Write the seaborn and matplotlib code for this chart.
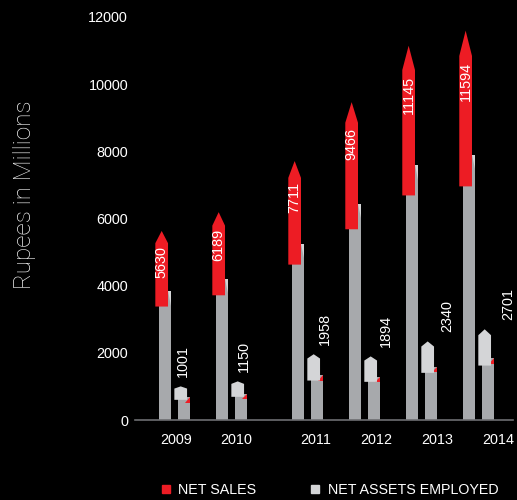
import numpy as np
import pandas as pd
import matplotlib
matplotlib.use("Agg")
import matplotlib.pyplot as plt
from matplotlib.patches import Polygon
from matplotlib.lines import Line2D
import seaborn as sns

years = ["2009", "2010", "2011", "2012", "2013", "2014"]
net_sales = [5630, 6189, 7711, 9466, 11145, 11594]
net_assets = [1001, 1150, 1958, 1894, 2340, 2701]
y_ticks = [0, 2000, 4000, 6000, 8000, 10000, 12000]
y_label = "Rupees in Millions"
legend_labels = ["NET SALES", "NET ASSETS EMPLOYED"]

RED = "#ED1C24"
BAR_GRAY = "#A7A9AC"
LIGHT = "#D4D5D7"
BG = "#000000"

sns.set_theme(style="dark", rc={
    "figure.facecolor": BG, "axes.facecolor": BG, "savefig.facecolor": BG,
    "axes.grid": False,
})
plt.rcParams["font.family"] = ["Liberation Sans", "DejaVu Sans"]

fig = plt.figure(figsize=(5.17, 5.0), dpi=100)
ax = fig.add_axes([135 / 517, 80 / 500, 378 / 517, 403 / 500])

n = len(years)
# layout: a wider gap between 2010 and 2011
pos = np.array([i + (0.333 if i >= 2 else 0.0) for i in range(n)])
off = 0.167
bw = 0.223
shaft = 0.68

df_big = pd.DataFrame({"x": pos - off, "h": np.array(net_sales) * shaft})
df_small = pd.DataFrame({"x": pos + off, "h": np.array(net_assets) * shaft})
sns.barplot(data=df_big, x="x", y="h", native_scale=True, width=bw, color=BAR_GRAY,
            saturation=1, errorbar=None, ax=ax, linewidth=0, zorder=2)
sns.barplot(data=df_small, x="x", y="h", native_scale=True, width=bw, color=BAR_GRAY,
            saturation=1, errorbar=None, ax=ax, linewidth=0, zorder=2)


def arrow(xc, v, color):
    x0, x1 = xc - bw / 2, xc + bw / 2
    b, s = 0.6 * v, 0.935 * v
    return Polygon([(x0, b), (x1, b), (x1, s), (xc, v), (x0, s)], closed=True,
                   facecolor=color, edgecolor="none", zorder=4, clip_on=False)


shift = 0.058
for i in range(n):
    vs, va_ = net_sales[i], net_assets[i]
    xr = pos[i] - off + bw / 2
    top = vs * shaft
    ax.add_patch(Polygon([(xr - 0.05, top), (xr, top), (xr, top - 420)],
                         facecolor=LIGHT, edgecolor="none", zorder=3))
    xr2 = pos[i] + off + bw / 2
    top2 = va_ * shaft
    ax.add_patch(Polygon([(xr2, top2), (xr2, top2 - 160), (xr2 - 0.09, top2 - 160)],
                         facecolor=RED, edgecolor="none", zorder=3))
    ax.add_patch(arrow(pos[i] - off - shift, vs, RED))
    ax.add_patch(arrow(pos[i] + off - shift, va_, LIGHT))
    ax.text(pos[i] - off - shift, 0.92 * vs, f"{vs}", rotation=90, ha="center",
            va="top", color="white", fontsize=10.4, zorder=5)
    ax.text(pos[i] + 0.15 + 0.075 * i, va_ + 290, f"{va_}", rotation=90, ha="center",
            va="bottom", color="white", fontsize=10.4, zorder=5, clip_on=False)

ax.set_xlim(-0.693, 5.939)
ax.set_ylim(0, 12000)
ax.set_yticks(y_ticks)
ax.set_yticklabels([str(t) for t in y_ticks])
ax.set_xticks(pos + 0.026 + 0.063 * np.arange(n))
ax.set_xticklabels(years)
ax.set_xlabel("")
ax.set_ylabel("")
ax.tick_params(axis="both", length=0, colors="white", labelsize=10.4)
ax.tick_params(axis="y", pad=5)
ax.tick_params(axis="x", pad=9)
for sp in ["top", "left", "right"]:
    ax.spines[sp].set_visible(False)
ax.spines["bottom"].set_color("#6D6E71")
ax.spines["bottom"].set_linewidth(1.2)

fig.text(25 / 517, 1 - 195 / 500, y_label, rotation=90, ha="center", va="center",
         color="#F0F0F0", fontsize=17.5, family=["Roboto", "DejaVu Sans"], fontweight="light")

handles = [Line2D([], [], marker="s", ls="", color=RED, markersize=5.5),
           Line2D([], [], marker="s", ls="", color=LIGHT, markersize=5.5)]
fig.legend(handles, legend_labels, loc="center", bbox_to_anchor=(330 / 517, 10 / 500),
           ncol=2, frameon=False, labelcolor="white", fontsize=10.3,
           handlelength=0.6, handletextpad=0.6, columnspacing=3.8)

fig.savefig("out.png", dpi=100)
